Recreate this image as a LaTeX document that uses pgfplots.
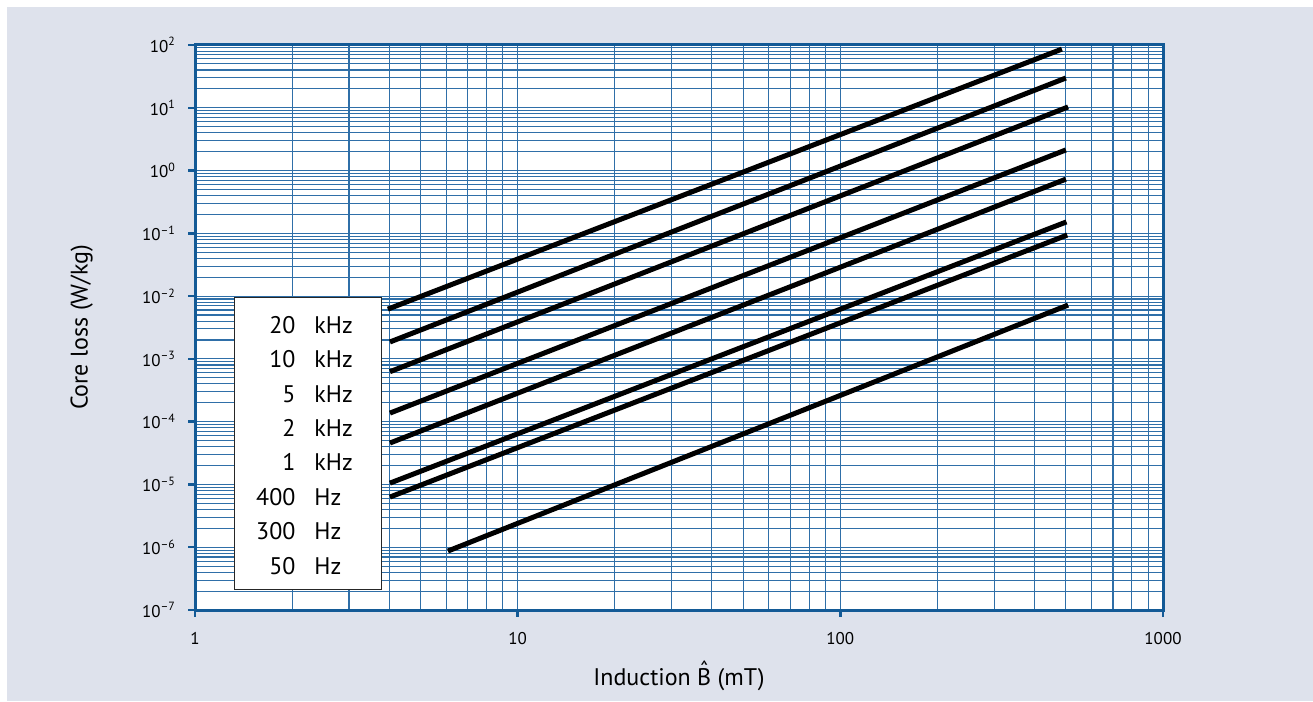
\documentclass[border=0pt]{standalone}
\usepackage{pgfplots}
\pgfplotsset{compat=1.18}
\usepackage{fontspec}
\setmainfont{PT Sans}
\definecolor{bg}{HTML}{DEE2EC}
\definecolor{gridblue}{HTML}{2F6FA8}
\definecolor{axisblue}{HTML}{135A96}
\newcommand{\Bhat}{\ooalign{B\cr\hidewidth\raisebox{0.3em}{ˆ}\hidewidth\cr}}
\begin{document}
\begin{tikzpicture}[x=1pt,y=1pt]
\fill[white] (0,0) rectangle (1313,701);
\fill[bg] (7,0) rectangle (1313,694);
\begin{axis}[
  at={(195pt,91pt)}, anchor=south west,
  scale only axis, width=968pt, height=565pt,
  xmode=log, ymode=log,
  xmin=1, xmax=1000, ymin=1e-7, ymax=1e2,
  axis background/.style={fill=white},
  xtick={1,10,100,1000}, xticklabels={1,10,100,1000},
  ytick={1e-7,1e-6,1e-5,1e-4,1e-3,1e-2,1e-1,1,10,100},
  yticklabels={10\textsuperscript{\textendash7},10\textsuperscript{\textendash6},10\textsuperscript{\textendash5},10\textsuperscript{\textendash4},10\textsuperscript{\textendash3},10\textsuperscript{\textendash2},10\textsuperscript{\textendash1},10\textsuperscript{0},10\textsuperscript{1},10\textsuperscript{2}},
  minor xtick={2,3,4,5,6,7,8,9,20,30,40,50,60,70,80,90,200,300,400,500,600,700,800,900},
  minor ytick={2e-7,3e-7,4e-7,5e-7,6e-7,7e-7,8e-7,9e-7,
    2e-6,3e-6,4e-6,5e-6,6e-6,7e-6,8e-6,9e-6,
    2e-5,3e-5,4e-5,5e-5,6e-5,7e-5,8e-5,9e-5,
    2e-4,3e-4,4e-4,5e-4,6e-4,7e-4,8e-4,9e-4,
    2e-3,3e-3,4e-3,5e-3,6e-3,7e-3,8e-3,9e-3,
    2e-2,3e-2,4e-2,5e-2,6e-2,7e-2,8e-2,9e-2,
    0.2,0.3,0.4,0.5,0.6,0.7,0.8,0.9,
    2,3,4,5,6,7,8,9,20,30,40,50,60,70,80,90},
  grid=both,
  major grid style={gridblue, line width=1.1pt},
  minor grid style={gridblue, line width=1.1pt},
  axis line style={axisblue, line width=3pt},
  tick align=outside, xtick pos=bottom, ytick pos=left,
  major tick length=7pt, minor tick length=0pt,
  major tick style={axisblue, line width=2.5pt},
  ticklabel style={font=\fontsize{17}{20}\selectfont},
  yticklabel style={xshift=-9pt},
  xticklabel style={yshift=-12pt},
  xlabel={Induction \Bhat{} (mT)},
  ylabel={Core loss (W/kg)},
  label style={font=\fontsize{24}{28}\selectfont},
  xlabel style={at={(axis description cs:0.5,-0.1239)}, anchor=center},
  ylabel style={at={(axis description cs:-0.1170,0.5)}, anchor=center},
]
\addplot[black, line width=5pt, mark=none] coordinates {(3.96,6.2e-3) (486,86)};
\addplot[black, line width=5pt, mark=none] coordinates {(4.02,1.86e-3) (500,29.8)};
\addplot[black, line width=5pt, mark=none] coordinates {(4.02,6.25e-4) (508,10.3)};
\addplot[black, line width=5pt, mark=none] coordinates {(4.02,1.37e-4) (500,2.13)};
\addplot[black, line width=5pt, mark=none] coordinates {(4.02,4.57e-5) (500,0.73)};
\addplot[black, line width=5pt, mark=none] coordinates {(4.02,1.05e-5) (502,0.152)};
\addplot[black, line width=5pt, mark=none] coordinates {(4.02,6.3e-6) (505,0.094)};
\addplot[black, line width=5pt, mark=none] coordinates {(6.08,8.7e-7) (508,7.2e-3)};
\node[draw=black!85, line width=1.2pt, fill=white, anchor=north west, minimum width=147pt, minimum height=292pt, inner sep=0pt] at (rel axis cs:0.0403,0.554) {};
\node[anchor=north west, inner sep=0pt, font=\fontsize{24}{34.4}\selectfont] at (rel axis cs:0.063,0.5327) {\begin{tabular}{@{}r@{\hspace{19pt}}l@{}}
20 & kHz\\
10 & kHz\\
5 & kHz\\
2 & kHz\\
1 & kHz\\
400 & Hz\\
300 & Hz\\
50 & Hz
\end{tabular}};
\end{axis}
\end{tikzpicture}
\end{document}
